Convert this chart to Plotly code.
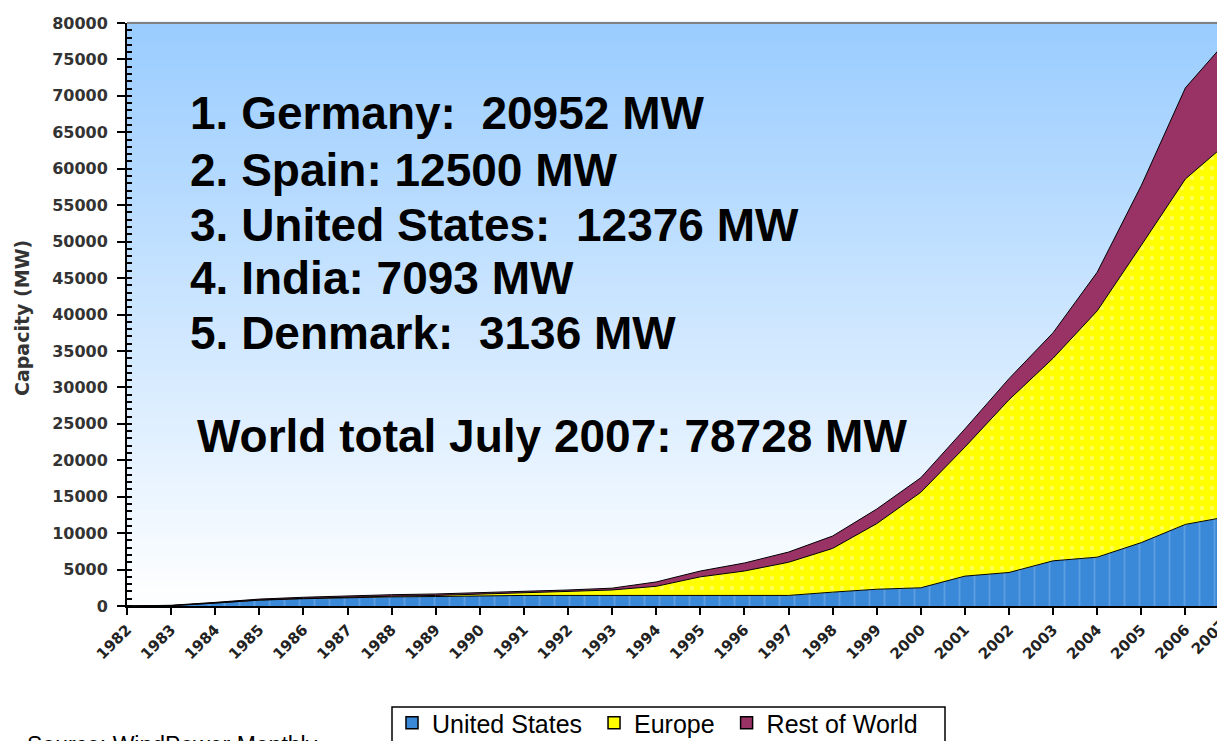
import plotly.graph_objects as go

years = [str(y) for y in range(1982, 2008)]
us = [0, 50, 400, 800, 1000, 1150, 1250, 1300, 1400, 1450, 1450, 1450, 1450,
      1450, 1450, 1450, 1900, 2300, 2500, 4100, 4600, 6200, 6700, 8700, 11200, 12300]
europe = [0, 0, 20, 30, 50, 100, 100, 150, 200, 350, 550, 750, 1250,
          2550, 3350, 4550, 6000, 9000, 13100, 17700, 23700, 27800, 33800, 40800, 47400, 51500]
rest = [0, 50, 80, 120, 150, 150, 200, 200, 200, 200, 200, 250, 600,
        800, 1100, 1400, 1700, 2000, 2000, 2500, 2900, 3500, 5300, 8200, 12500, 14200]
series_names = ["United States", "Europe", "Rest of World"]
series_colors = ["#3A88D8", "#FFFF00", "#993366"]
ranking = ["1. Germany:\u00a0 20952 MW", "2. Spain: 12500 MW",
           "3. United States:\u00a0 12376 MW", "4. India: 7093 MW",
           "5. Denmark:\u00a0 3136 MW"]
total_text = "World total July 2007: 78728 MW"
source_text = "Source: WindPower Monthly"

W, H = 1217, 741
L, R, T, B = 127, 0, 23, 135
plot_w = W - L - R
plot_h = H - T - B
step = 44.1  # pixels per year in the original
xmax = plot_w / step

xs = list(range(len(years)))

fig = go.Figure()
patterns = [
    dict(shape="|", bgcolor=series_colors[0], fgcolor="#7FB4EA", size=15, solidity=0.12),
    dict(shape=".", bgcolor=series_colors[1], fgcolor="#FFFFB0", size=10, solidity=0.15),
    None,
]
for name, vals, col, pat in zip(series_names, [us, europe, rest], series_colors, patterns):
    kw = dict(fillpattern=pat) if pat else {}
    fig.add_trace(go.Scatter(
        x=xs, y=vals, name=name, stackgroup="one", mode="lines",
        line=dict(color="black", width=1), fillcolor=col, showlegend=False, **kw))
# legend entries (square swatches like the original)
for name, col in zip(series_names, series_colors):
    fig.add_trace(go.Bar(x=[None], y=[None], name=name + "\u00a0", showlegend=True,
                         marker=dict(color=col, line=dict(color="black", width=1.5))))

def py(ypix):
    return (H - B - ypix) / plot_h

def px(xpix):
    return (xpix - L) / plot_w

# gradient background (plot area)
n = 90
shapes = []
for i in range(n):
    f0 = i / n
    f = (i + 0.5) / n
    r = int(round(255 - (255 - 153) * f))
    g = int(round(255 - (255 - 204) * f))
    shapes.append(dict(type="rect", xref="paper", yref="paper", x0=0, x1=1,
                       y0=f0, y1=(i + 1) / n + 0.002, layer="below",
                       line=dict(width=0), fillcolor=f"rgb({r},{g},255)"))
shapes.append(dict(type="line", xref="paper", yref="paper", x0=0, x1=1, y0=1, y1=1,
                   line=dict(color="#808080", width=2)))
# legend frame
shapes.append(dict(type="rect", xref="paper", yref="paper", x0=px(392), x1=px(945),
                   y0=py(760), y1=py(707), layer="above",
                   line=dict(color="black", width=1.5), fillcolor="rgba(0,0,0,0)"))

annotations = []
big_font = dict(family="Liberation Sans", size=46, color="black", weight="bold")
for txt, yc in zip(ranking, [113, 170, 225, 278, 333]):
    annotations.append(dict(text=txt, xref="paper", yref="paper", x=px(188), y=py(yc),
                            xanchor="left", yanchor="middle", showarrow=False, font=big_font))
annotations.append(dict(text=total_text, xref="paper", yref="paper", x=px(195), y=py(436),
                        xanchor="left", yanchor="middle", showarrow=False, font=big_font))
annotations.append(dict(text="Capacity (MW)", xref="paper", yref="paper", x=px(22), y=py(318),
                        xanchor="center", yanchor="middle", textangle=-90, showarrow=False,
                        font=dict(family="DejaVu Sans", size=19, color="#333333", weight="bold")))
annotations.append(dict(text=source_text, xref="paper", yref="paper", x=px(25), y=py(730),
                        xanchor="left", yanchor="top", showarrow=False,
                        font=dict(family="Liberation Sans", size=23, color="black")))
annotations.append(dict(text=years[-1], xref="paper", yref="paper", x=px(1233), y=py(613),
                        xanchor="right", yanchor="top", textangle=-45, showarrow=False,
                        font=dict(family="DejaVu Sans", size=15, color="#222222", weight="bold")))

fig.update_layout(
    width=W, height=H,
    margin=dict(l=L, r=R, t=T, b=B, pad=0, autoexpand=False),
    paper_bgcolor="white", plot_bgcolor="white",
    shapes=shapes, annotations=annotations,
    showlegend=True,
    legend=dict(orientation="h", xref="container", yref="container",
                x=392 / W, y=1 - 700 / H, xanchor="left", yanchor="top",
                borderwidth=0, bgcolor="rgba(0,0,0,0)",
                font=dict(family="Liberation Sans", size=25, color="black"),
                traceorder="normal", itemwidth=30, tracegroupgap=0),
    xaxis=dict(range=[0, xmax], tickmode="array", tickvals=xs, ticktext=years,
               tickangle=-45, ticks="outside", ticklen=7, tickwidth=2, tickcolor="black",
               showline=True, linecolor="black", linewidth=2, showgrid=False, zeroline=False,
               automargin=False,
               tickfont=dict(family="DejaVu Sans", size=15, color="#222222", weight="bold")),
    yaxis=dict(range=[0, 80000], dtick=5000, tick0=0, tickformat="d", ticks="outside", ticklen=8,
               tickwidth=2, tickcolor="black", showline=True, linecolor="black", linewidth=2,
               showgrid=False, zeroline=False, automargin=False, ticklabelstandoff=6,
               minor=dict(dtick=1000, ticks="inside", ticklen=5, tickwidth=1.5, tickcolor="black"),
               tickfont=dict(family="DejaVu Sans", size=16, color="#333333", weight="bold")),
)

fig.write_html(
    "out.html",
    config={"displayModeBar": False},
    post_script="document.body.style.margin='0px';document.body.style.overflow='hidden';",
)
